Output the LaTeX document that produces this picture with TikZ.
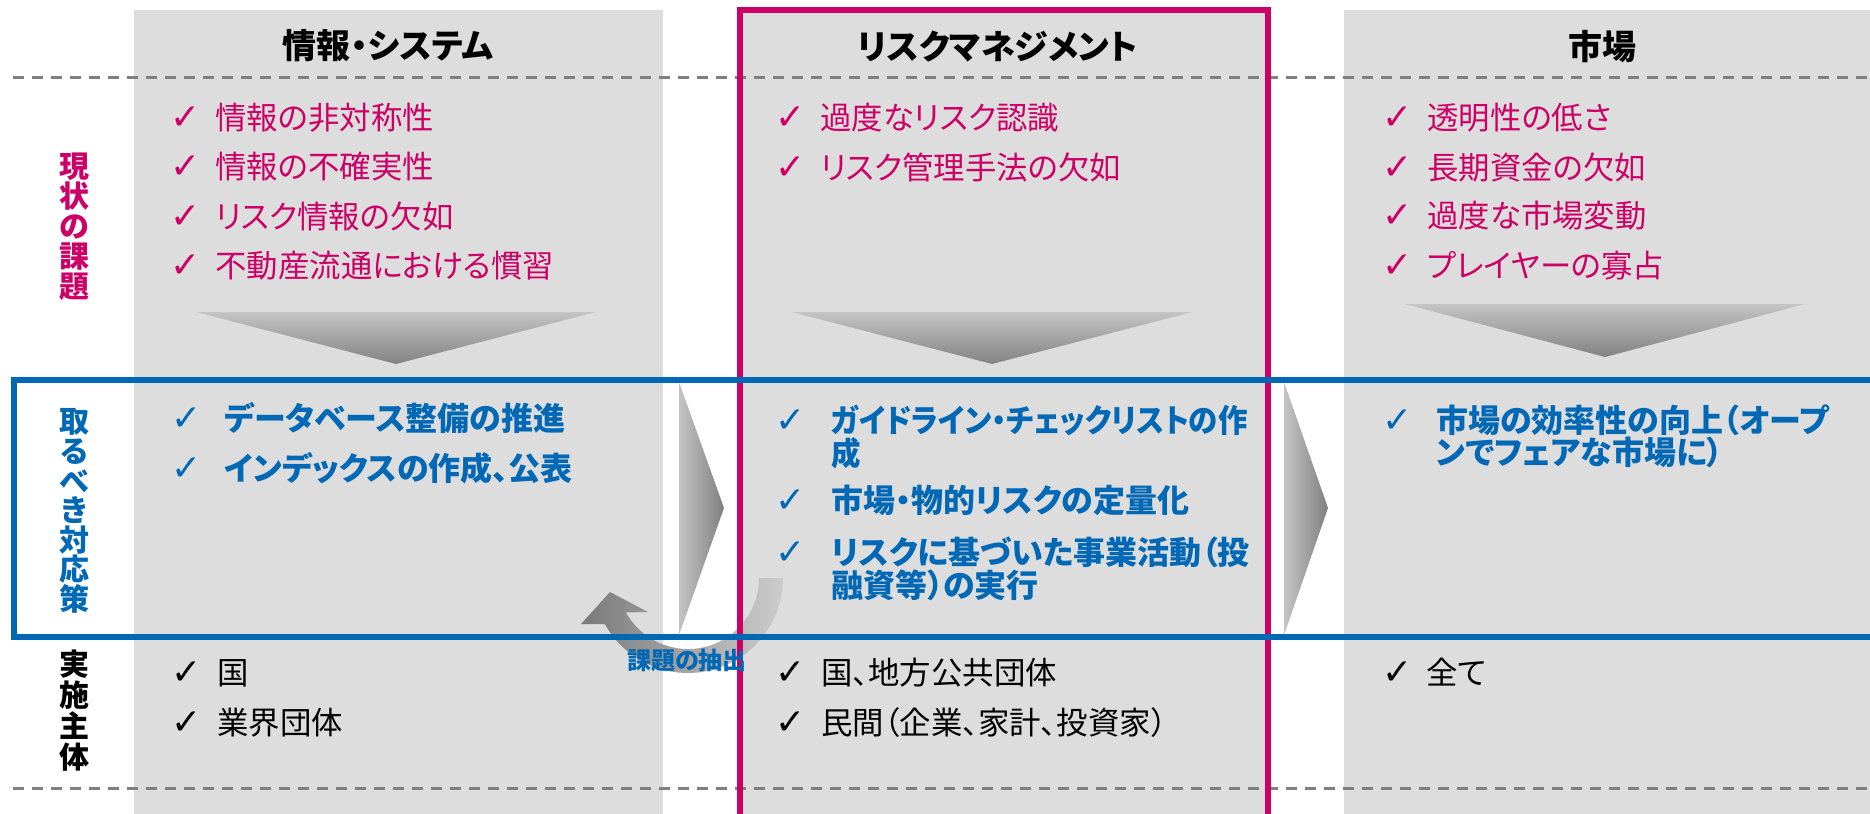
\documentclass[tikz,border=0pt]{standalone}
\usepackage{fontspec}
\setmainfont{Noto Sans CJK JP}[RawFeature=+palt]
\newfontfamily\checkfont{DejaVu Sans}
\usetikzlibrary{positioning}

\definecolor{panelgray}{RGB}{221,221,221}
\definecolor{issuered}{RGB}{204,0,102}
\definecolor{planblue}{RGB}{0,104,181}
\definecolor{dashgray}{RGB}{128,128,128}

\newcommand{\chk}[1]{\makebox[#1][l]{{\checkfont\fontsize{18}{18}\selectfont ✓}}}

\begin{document}
\begin{tikzpicture}[
    x=0.5pt, y=-0.5pt,
    panel/.style={fill=panelgray, draw=none},
    hdr/.style={font=\fontsize{17}{18}\selectfont\bfseries, inner sep=0pt},
    sidelbl/.style={font=\fontsize{15}{15}\selectfont\bfseries, align=center, inner sep=0pt},
    issue/.style={anchor=base west, inner sep=0pt, text=issuered, font=\fontsize{15.7}{16}\selectfont},
    plan/.style={anchor=base west, inner sep=0pt, text=planblue, font=\fontsize{16}{14.5}\selectfont\bfseries},
    actor/.style={anchor=base west, inner sep=0pt, text=black, font=\fontsize{15.7}{16}\selectfont},
    sepline/.style={draw=dashgray, line width=1.5pt, dash pattern=on 5.5pt off 4pt},
    fadedown/.style={top color=black!23, bottom color=black!49},
    faderight/.style={left color=black!23, right color=black!50}
]
\useasboundingbox (0,0) rectangle (1870,814);

% Column panels
\fill[panel] (134,10) rectangle (663,814);
\fill[panel] (740,10) rectangle (1268,814);
\fill[panel] (1344,10) rectangle (1870,814);

% Row separators
\draw[sepline] (13,77) -- (1870,77);
\draw[sepline] (13,788) -- (1870,788);

% Down arrows (issue -> measure)
\shade[fadedown] (196,312) -- (596,312) -- (396,364) -- cycle;
\shade[fadedown] (792,312) -- (1192,312) -- (992,364) -- cycle;
\shade[fadedown] (1405,304) -- (1805,304) -- (1605,357) -- cycle;

% Right arrows between columns
\shade[faderight] (679,382) -- (724,508) -- (679,635) -- cycle;
\shade[faderight] (1284,382) -- (1328,508) -- (1284,635) -- cycle;

% Feedback arrow
\coordinate (hub) at (688,578);
\shade[left color=black!52, right color=black!20]
  ([shift={(0:95)}]hub) arc[start angle=0, end angle=151, radius=95]
  -- (581,624) -- (610,592) -- (648,612)
  -- ([shift={(151:71)}]hub) arc[start angle=151, end angle=0, radius=71] -- cycle;

% Highlighted column and measure band
\draw[draw=issuered, line width=3pt] (740,830) -- (740,10) -- (1268,10) -- (1268,830);
\draw[draw=planblue, line width=2.8pt] (1880,380) -- (14,380) -- (14,637) -- (1880,637);

% Headers
\node[hdr] (hdrinfo) at (388,46) {情報・システム};
\node[hdr] (hdrrisk) at (998,47) {リスクマネジメント};
\node[hdr] (hdrmkt) at (1602,47) {市場};

% Row labels
\node[sidelbl, text=issuered] (lblnow) at (74,227) {現\\状\\の\\課\\題};
\node[sidelbl, text=planblue, font=\fontsize{15}{14.8}\selectfont\bfseries] (lbldo) at (74,511) {取\\る\\べ\\き\\対\\応\\策};
\node[sidelbl, text=black, font=\fontsize{15}{15.5}\selectfont\bfseries] (lblwho) at (74,711) {実\\施\\主\\体};

% Issues
\node[issue] (iss1a) at (170,129) {\chk{22.5pt}情報の非対称性};
\node[issue] (iss1b) at (170,178) {\chk{22.5pt}情報の不確実性};
\node[issue] (iss1c) at (170,228) {\chk{22.5pt}リスク情報の欠如};
\node[issue] (iss1d) at (170,277) {\chk{22.5pt}不動産流通における慣習};
\node[issue] (iss2a) at (775,129) {\chk{22.5pt}過度なリスク認識};
\node[issue] (iss2b) at (775,179) {\chk{22.5pt}リスク管理手法の欠如};
\node[issue] (iss3a) at (1382,129) {\chk{22.5pt}透明性の低さ};
\node[issue] (iss3b) at (1382,179) {\chk{22.5pt}長期資金の欠如};
\node[issue] (iss3c) at (1382,227) {\chk{22.5pt}過度な市場変動};
\node[issue] (iss3d) at (1382,277) {\chk{22.5pt}プレイヤーの寡占};

% Measures
\node[plan] (pln1a) at (171,430) {\chk{26.5pt}データベース整備の推進};
\node[plan] (pln1b) at (171,480) {\chk{26.5pt}インデックスの作成、公表};
\node[plan] (pln2a) at (775,432) {\chk{28pt}\parbox[t]{215pt}{\addfontfeature{FakeStretch=0.92}ガイドライン・チェックリストの作\\成}};
\node[plan] (pln2b) at (775,512) {\chk{28pt}市場・物的リスクの定量化};
\node[plan] (pln2c) at (775,564) {\chk{28pt}\parbox[t]{215pt}{リスクに基づいた事業活動（投\\融資等）の実行}};
\node[plan] (pln3a) at (1382,432) {\chk{27pt}\parbox[t]{225pt}{市場の効率性の向上（オープ\\ンでフェアな市場に）}};

% Actors
\node[actor] (act1a) at (171,684) {\chk{23pt}国};
\node[actor] (act1b) at (171,734) {\chk{23pt}業界団体};
\node[actor] (act2a) at (775,684) {\chk{23pt}国、地方公共団体};
\node[actor] (act2b) at (775,734) {\chk{23pt}民間（企業、家計、投資家）};
\node[actor] (act3a) at (1382,684) {\chk{22pt}全て};

% Feedback label
\node[font=\fontsize{12}{12}\selectfont\bfseries, text=planblue, inner sep=0pt] (extract) at (687,660) {課題の抽出};

\end{tikzpicture}
\end{document}
